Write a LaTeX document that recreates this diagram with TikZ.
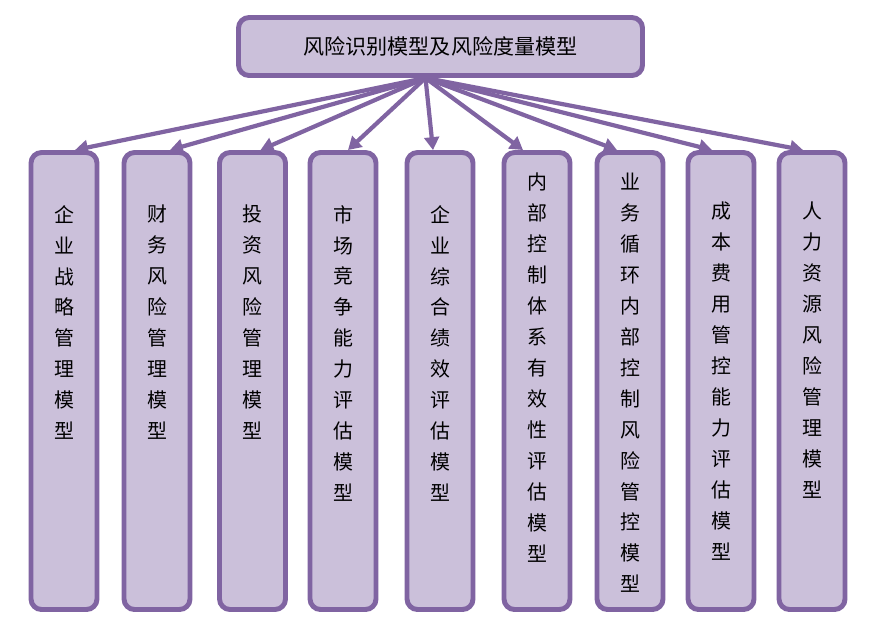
\documentclass[tikz,border=0pt]{standalone}
\usepackage{fontspec}
\setmainfont{Noto Sans CJK SC}
\XeTeXlinebreaklocale "zh"
\XeTeXlinebreakskip=0pt plus 1pt
\usetikzlibrary{positioning,arrows.meta}
\definecolor{morado}{HTML}{8064A2}
\definecolor{lila}{HTML}{CBC0DA}

\begin{document}
\begin{tikzpicture}[x=0.3mm, y=-0.3mm, >={Triangle[length=11pt,width=12.5pt]},
    caja/.style={draw=morado, fill=lila, line width=4.2pt, rounded corners=9pt},
    col/.style={caja, minimum width=19.8mm, minimum height=137.1mm},
    txt/.style={anchor=north, align=center, text width=7.5mm, inner sep=0pt,
                font=\fontsize{17}{26.4}\selectfont},
    flecha/.style={->, draw=morado, line width=3.6pt}]
  \useasboundingbox (0,0) rectangle (884,641);
  \node[caja, minimum width=121.2mm, minimum height=17.4mm,
        font=\fontsize{18}{20}\selectfont] (top) at (440.5,46.5) {风险识别模型及风险度量模型};
  \coordinate (hub) at ([xshift=-4.5mm]top.south);
  \foreach \i/\x/\dx/\ty/\t in {1/64/11/205/企业战略管理模型,
      2/157/13/205/财务风险管理模型, 3/252.5/8/205/投资风险管理模型,
      4/343/5/205/市场竞争能力评估模型, 5/440/-7/205/企业综合绩效评估模型,
      6/537/-14/173/内部控制体系有效性评估模型, 7/630/-13/173/业务循环内部控制风险管控模型,
      8/721/-9/202/成本费用管控能力评估模型, 9/812/-9/202/人力资源风险管理模型}{
    \node[col] (m\i) at (\x,381) {};
    \node[txt] (t\i) at (\x,\ty) {\t};
    \draw[flecha] (hub) -- ([xshift=\dx*0.3mm]m\i.north);
  }
\end{tikzpicture}
\end{document}
